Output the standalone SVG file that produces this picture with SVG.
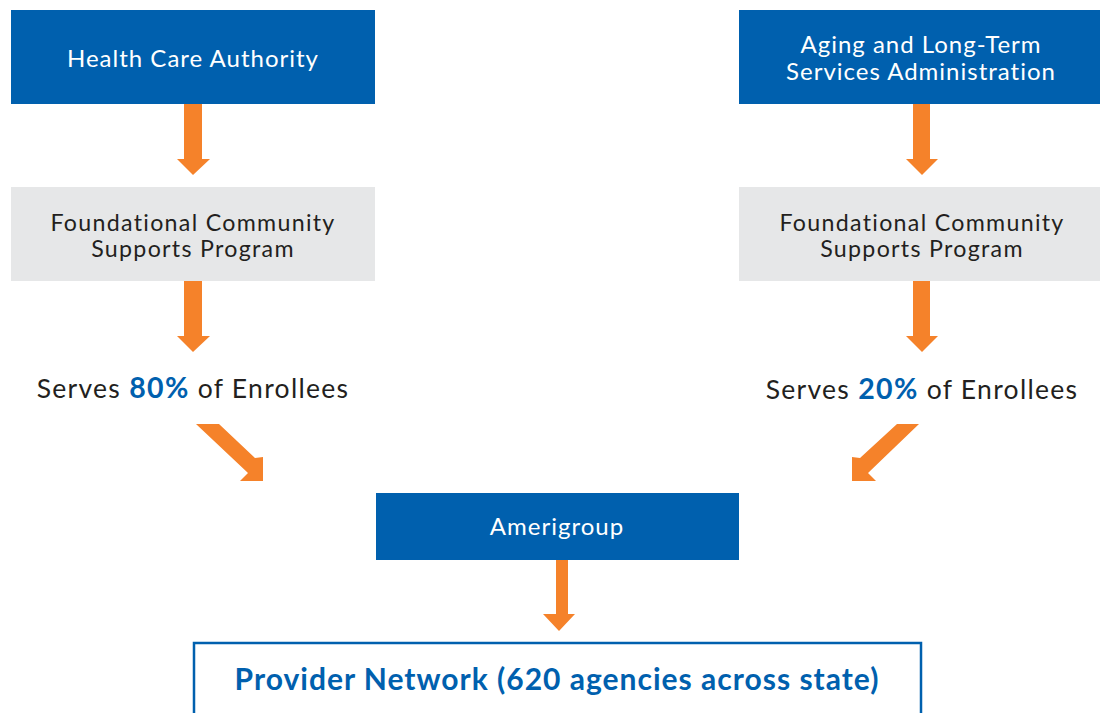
<svg xmlns="http://www.w3.org/2000/svg" width="1100" height="713" viewBox="0 0 1100 713">
  <style>
    .blue { fill: #0060ae; }
    .gray { fill: #e6e7e8; }
    .arrow { fill: #f5822a; }
    .t { font-family: Lato, "Open Sans", "Liberation Sans", sans-serif; text-anchor: middle; }
    .w { fill: #ffffff; font-size: 24px; letter-spacing: 1px; }
    .d { fill: #231f20; font-size: 23.2px; letter-spacing: 1.3px; }
    .s { fill: #231f20; font-size: 26.5px; letter-spacing: 1.3px; }
    .pct { fill: #0060ae; font-weight: bold; font-size: 28.5px; }
    .net { fill: #0060ae; font-weight: bold; font-size: 30px; letter-spacing: 1px; }
  </style>
  <rect width="1100" height="713" fill="#ffffff"/>

  <g id="hca">
    <rect class="blue" x="11" y="10" width="364" height="94"/>
    <text class="t w" x="193" y="67">Health Care Authority</text>
  </g>

  <g id="altsa">
    <rect class="blue" x="739" y="10" width="370" height="94"/>
    <text class="t w" x="921" y="53">Aging and Long-Term</text>
    <text class="t w" x="921" y="80">Services Administration</text>
  </g>

  <g id="fcs-left">
    <rect class="gray" x="11" y="187" width="364" height="94"/>
    <text class="t d" x="193" y="231">Foundational Community</text>
    <text class="t d" x="193" y="257">Supports Program</text>
  </g>

  <g id="fcs-right">
    <rect class="gray" x="739" y="187" width="370" height="94"/>
    <text class="t d" x="922" y="231">Foundational Community</text>
    <text class="t d" x="922" y="257">Supports Program</text>
  </g>

  <g id="serves-80">
    <text class="t s" x="193" y="398">Serves <tspan class="pct">80%</tspan> of Enrollees</text>
  </g>

  <g id="serves-20">
    <text class="t s" x="922" y="399">Serves <tspan class="pct">20%</tspan> of Enrollees</text>
  </g>

  <g id="amerigroup">
    <rect class="blue" x="376" y="493" width="363" height="67"/>
    <text class="t w" x="557" y="535">Amerigroup</text>
  </g>

  <g id="provider-network">
    <rect x="194" y="643" width="727" height="90" fill="none" stroke="#0060ae" stroke-width="2.5"/>
    <text class="t net" x="557" y="690">Provider Network (620 agencies across state)</text>
  </g>

  <g id="connectors">
    <!-- vertical block arrows -->
    <polygon class="arrow" points="184,104 202,104 202,159 210,159 193,175 177,159 184,159"/>
    <polygon class="arrow" points="913,104 930,104 930,159 938,159 922,175 906,159 913,159"/>
    <polygon class="arrow" points="184,281 202,281 202,336 210,336 193,352 177,336 184,336"/>
    <polygon class="arrow" points="913,281 930,281 930,336 938,336 922,352 906,336 913,336"/>
    <polygon class="arrow" points="556,560 568,560 568,614 575,614 559,631 543,614 556,614"/>
    <!-- diagonal block arrows into Amerigroup -->
    <polygon class="arrow" points="196,424 219,424 255,458 263,457 263,481 240,481 248,473"/>
    <polygon class="arrow" points="919,424 897,424 860,458 852,457 852,481 876,481 868,473"/>
  </g>
</svg>
